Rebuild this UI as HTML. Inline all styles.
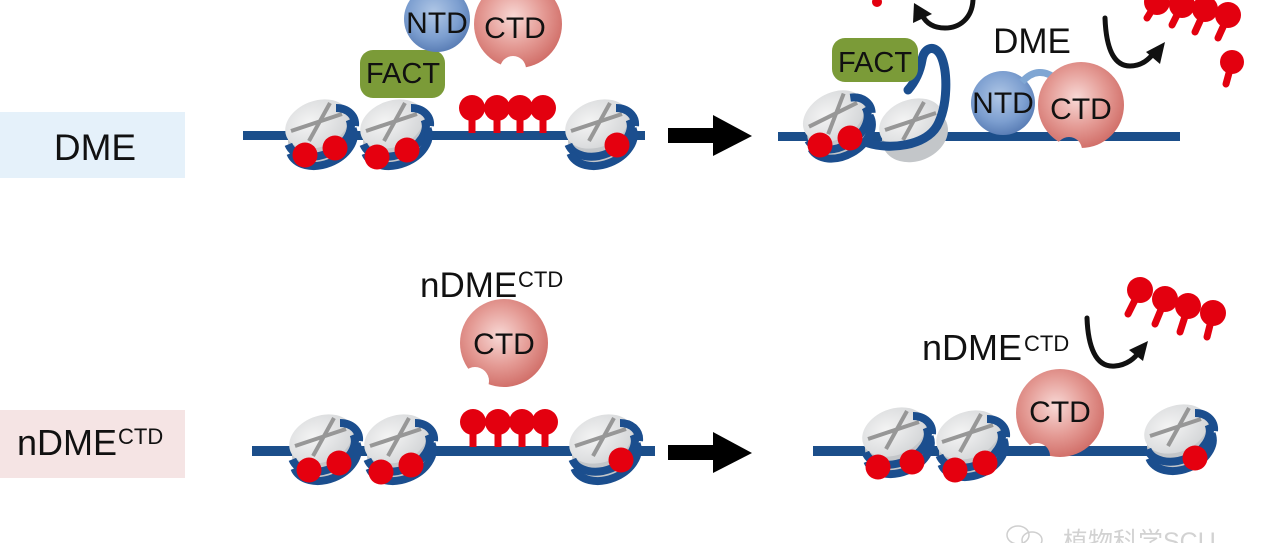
<!DOCTYPE html>
<html><head><meta charset="utf-8"><style>
html,body{margin:0;padding:0;background:#fff;}
body{width:1280px;height:543px;overflow:hidden;}
svg{display:block;}
text{font-family:"Liberation Sans","Noto Sans CJK SC",sans-serif;fill:#111;}
</style></head><body>
<svg width="1280" height="543" viewBox="0 0 1280 543" xmlns="http://www.w3.org/2000/svg">
<defs>
<radialGradient id="gg" cx="0.4" cy="0.4" r="0.7"><stop offset="0" stop-color="#f4f4f4"/><stop offset="1" stop-color="#d2d4d6"/></radialGradient>
<radialGradient id="pk" cx="0.45" cy="0.42" r="0.62"><stop offset="0" stop-color="#f8d9d6"/><stop offset="0.55" stop-color="#e49a94"/><stop offset="1" stop-color="#cf6a64"/></radialGradient>
<radialGradient id="bl" cx="0.45" cy="0.4" r="0.65"><stop offset="0" stop-color="#b0c7e6"/><stop offset="0.6" stop-color="#7d9fd0"/><stop offset="1" stop-color="#5377b0"/></radialGradient>
<g id="disc">
<ellipse cx="3" cy="10" rx="34" ry="26" transform="rotate(-22 3 10)" fill="#c3c6c9"/>
<ellipse cx="-1" cy="-2" rx="33" ry="23" transform="rotate(-22 -1 -2)" fill="url(#gg)"/>
<line x1="-27" y1="5" x2="24" y2="-12" stroke="#979797" stroke-width="4"/>
<line x1="12" y1="-23" x2="-9" y2="15" stroke="#979797" stroke-width="4"/>
</g>
<g id="bands" fill="none" stroke="#1b4e8e" stroke-width="8">
<path d="M -29.6 18.4 A 33 23 -22 0 0 31.6 -6.4"/>
<path d="M -27.6 27.4 A 33 23 -22 0 0 34.6 2.6"/>
<path d="M 18 -18 C 30 -18 38 -10 37 0"/>
</g>
<g id="nuc"><use href="#disc"/><use href="#bands"/></g>
<g id="lolli" fill="#e3000f"><rect x="-3.5" y="0" width="7" height="25"/><circle cx="0" cy="0" r="13"/></g>
<mask id="n1" maskUnits="userSpaceOnUse" x="-60" y="-60" width="120" height="120"><rect x="-60" y="-60" width="120" height="120" fill="#fff"/><circle cx="-5" cy="45" r="13" fill="#000"/></mask>
<mask id="n2" maskUnits="userSpaceOnUse" x="-60" y="-60" width="120" height="120"><rect x="-60" y="-60" width="120" height="120" fill="#fff"/><circle cx="-12" cy="45" r="13" fill="#000"/></mask>
<mask id="n3" maskUnits="userSpaceOnUse" x="-60" y="-60" width="120" height="120"><rect x="-60" y="-60" width="120" height="120" fill="#fff"/><circle cx="-29" cy="38" r="14" fill="#000"/></mask>
<mask id="n4" maskUnits="userSpaceOnUse" x="-60" y="-60" width="120" height="120"><rect x="-60" y="-60" width="120" height="120" fill="#fff"/><circle cx="-23" cy="43" r="13" fill="#000"/></mask>
</defs>

<!-- Left labels -->
<rect x="0" y="112" width="185" height="66" fill="#e5f1fa"/>
<text x="95" y="160" font-size="37" text-anchor="middle">DME</text>
<rect x="0" y="410" width="185" height="68" fill="#f5e4e4"/>
<text x="17" y="455" font-size="36">nDME</text>
<text x="118" y="444" font-size="22">CTD</text>

<!-- ===== Top-left panel ===== -->
<rect x="243" y="131" width="402" height="9" fill="#1b4e8a"/>
<use href="#nuc" x="318" y="126"/>
<use href="#nuc" x="393" y="126"/>
<use href="#nuc" x="598" y="126"/>
<g fill="#e5000f">
<circle cx="305" cy="155" r="12.5"/><circle cx="335" cy="148" r="12.5"/>
<circle cx="377" cy="157" r="12.5"/><circle cx="407" cy="150" r="12.5"/>
<circle cx="617" cy="145" r="12.5"/>
</g>
<use href="#lolli" x="472" y="108"/>
<use href="#lolli" x="497" y="108"/>
<use href="#lolli" x="520" y="108"/>
<use href="#lolli" x="543" y="108"/>
<rect x="360" y="50" width="85" height="48" rx="13" fill="#7b9b38"/>
<text x="403" y="83" font-size="29" text-anchor="middle">FACT</text>
<circle cx="437" cy="19" r="33" fill="url(#bl)"/>
<g transform="translate(518,24)"><circle r="44" fill="url(#pk)" mask="url(#n1)"/></g>
<text x="437" y="33" font-size="30" text-anchor="middle">NTD</text>
<text x="515" y="38" font-size="30" text-anchor="middle">CTD</text>

<!-- Arrow top -->
<rect x="668" y="128" width="46" height="15" fill="#000"/>
<polygon points="713,115 752,136 713,156" fill="#000"/>

<!-- ===== Top-right panel ===== -->
<rect x="778" y="132" width="402" height="9" fill="#1b4e8a"/>
<g transform="translate(835,118) rotate(-8)"><use href="#nuc"/></g>
<g transform="translate(912,125)"><use href="#disc"/></g>
<path d="M 868 143 C 890 150 925 146 937 126 C 948 106 948 72 941 56 C 935 44 924 47 922 60 C 920 72 915 82 908 90" fill="none" stroke="#1b4e8e" stroke-width="9" stroke-linecap="round"/>
<g fill="#e5000f"><circle cx="820" cy="145" r="12.5"/><circle cx="850" cy="138" r="12.5"/></g>
<rect x="832" y="38" width="86" height="44" rx="13" fill="#7b9b38"/>
<text x="875" y="72" font-size="29" text-anchor="middle">FACT</text>
<text x="1032" y="53" font-size="35" text-anchor="middle">DME</text>
<circle cx="1003" cy="103" r="32" fill="url(#bl)"/>
<path d="M 1022 82 Q 1038 64 1058 80" fill="none" stroke="#7fa6d3" stroke-width="7"/>
<g transform="translate(1081,105)"><circle r="43" fill="url(#pk)" mask="url(#n2)"/></g>
<text x="1003" y="113" font-size="30" text-anchor="middle">NTD</text>
<text x="1081" y="119" font-size="30" text-anchor="middle">CTD</text>
<!-- curved arrows -->
<path d="M 973 0 C 972 18 960 28 945 28 C 933 28 926 23 922 15" fill="none" stroke="#111" stroke-width="5" stroke-linecap="round"/>
<polygon points="914,3 913,23 932,14" fill="#111"/>
<path d="M 1105 18 C 1106 45 1112 66 1130 66 C 1142 66 1149 59 1154 53" fill="none" stroke="#111" stroke-width="5" stroke-linecap="round"/>
<polygon points="1165,42 1146,52 1160,64" fill="#111"/>
<!-- released methyls -->
<g stroke="#e3000f" stroke-width="7" stroke-linecap="round">
<line x1="1157" y1="2" x2="1147" y2="18"/><line x1="1182" y1="5" x2="1172" y2="25"/>
<line x1="1205" y1="10" x2="1195" y2="32"/><line x1="1228" y1="16" x2="1218" y2="38"/>
<line x1="1232" y1="62" x2="1226" y2="84"/>
</g>
<g fill="#e3000f">
<circle cx="1157" cy="2" r="13"/><circle cx="1182" cy="5" r="13"/><circle cx="1205" cy="9" r="13"/><circle cx="1228" cy="15" r="13"/>
<circle cx="1232" cy="62" r="12"/>
<circle cx="877" cy="2" r="5"/>
</g>

<!-- ===== Bottom-left panel ===== -->
<rect x="252" y="446" width="403" height="10" fill="#1b4e8a"/>
<use href="#nuc" x="322" y="441"/>
<use href="#nuc" x="397" y="441"/>
<use href="#nuc" x="602" y="441"/>
<g fill="#e5000f">
<circle cx="309" cy="470" r="12.5"/><circle cx="339" cy="463" r="12.5"/>
<circle cx="381" cy="472" r="12.5"/><circle cx="411" cy="465" r="12.5"/>
<circle cx="621" cy="460" r="12.5"/>
</g>
<use href="#lolli" x="473" y="422"/>
<use href="#lolli" x="498" y="422"/>
<use href="#lolli" x="522" y="422"/>
<use href="#lolli" x="545" y="422"/>
<text x="420" y="297" font-size="35">nDME</text>
<text x="518" y="287" font-size="22">CTD</text>
<g transform="translate(504,343)"><circle r="44" fill="url(#pk)" mask="url(#n3)"/></g>
<text x="504" y="354" font-size="30" text-anchor="middle">CTD</text>

<!-- Arrow bottom -->
<rect x="668" y="445" width="46" height="15" fill="#000"/>
<polygon points="713,432 752,453 713,473" fill="#000"/>

<!-- ===== Bottom-right panel ===== -->
<rect x="813" y="446" width="387" height="10" fill="#1b4e8a"/>
<use href="#nuc" x="895" y="434"/>
<use href="#nuc" x="969" y="437"/>
<use href="#nuc" x="1177" y="431"/>
<g fill="#e5000f">
<circle cx="878" cy="467" r="12.5"/><circle cx="912" cy="462" r="12.5"/>
<circle cx="955" cy="470" r="12.5"/><circle cx="985" cy="463" r="12.5"/>
<circle cx="1195" cy="458" r="12.5"/>
</g>
<g transform="translate(1060,413)"><circle r="44" fill="url(#pk)" mask="url(#n4)"/></g>
<text x="1060" y="422" font-size="30" text-anchor="middle">CTD</text>
<text x="922" y="360" font-size="36">nDME</text>
<text x="1024" y="351" font-size="22">CTD</text>
<path d="M 1087 318 C 1088 345 1095 368 1115 366 C 1127 365 1135 358 1139 352" fill="none" stroke="#111" stroke-width="5" stroke-linecap="round"/>
<polygon points="1148,341 1129,350 1143,361" fill="#111"/>
<g stroke="#e3000f" stroke-width="7" stroke-linecap="round">
<line x1="1140" y1="290" x2="1128" y2="314"/><line x1="1165" y1="300" x2="1155" y2="324"/>
<line x1="1188" y1="307" x2="1180" y2="332"/><line x1="1213" y1="313" x2="1207" y2="337"/>
</g>
<g fill="#e3000f">
<circle cx="1140" cy="290" r="13"/><circle cx="1165" cy="299" r="13"/><circle cx="1188" cy="306" r="13"/><circle cx="1213" cy="313" r="13"/>
</g>

<!-- watermark -->
<g fill="none" stroke="#cfcfcf" stroke-width="1.5">
<ellipse cx="1018" cy="535" rx="11" ry="9"/>
<ellipse cx="1032" cy="540" rx="10" ry="8"/>
</g>
<text x="1063" y="550" font-size="25" style="fill:#d2d2d2">植物科学SCU</text>
</svg>
</body></html>
